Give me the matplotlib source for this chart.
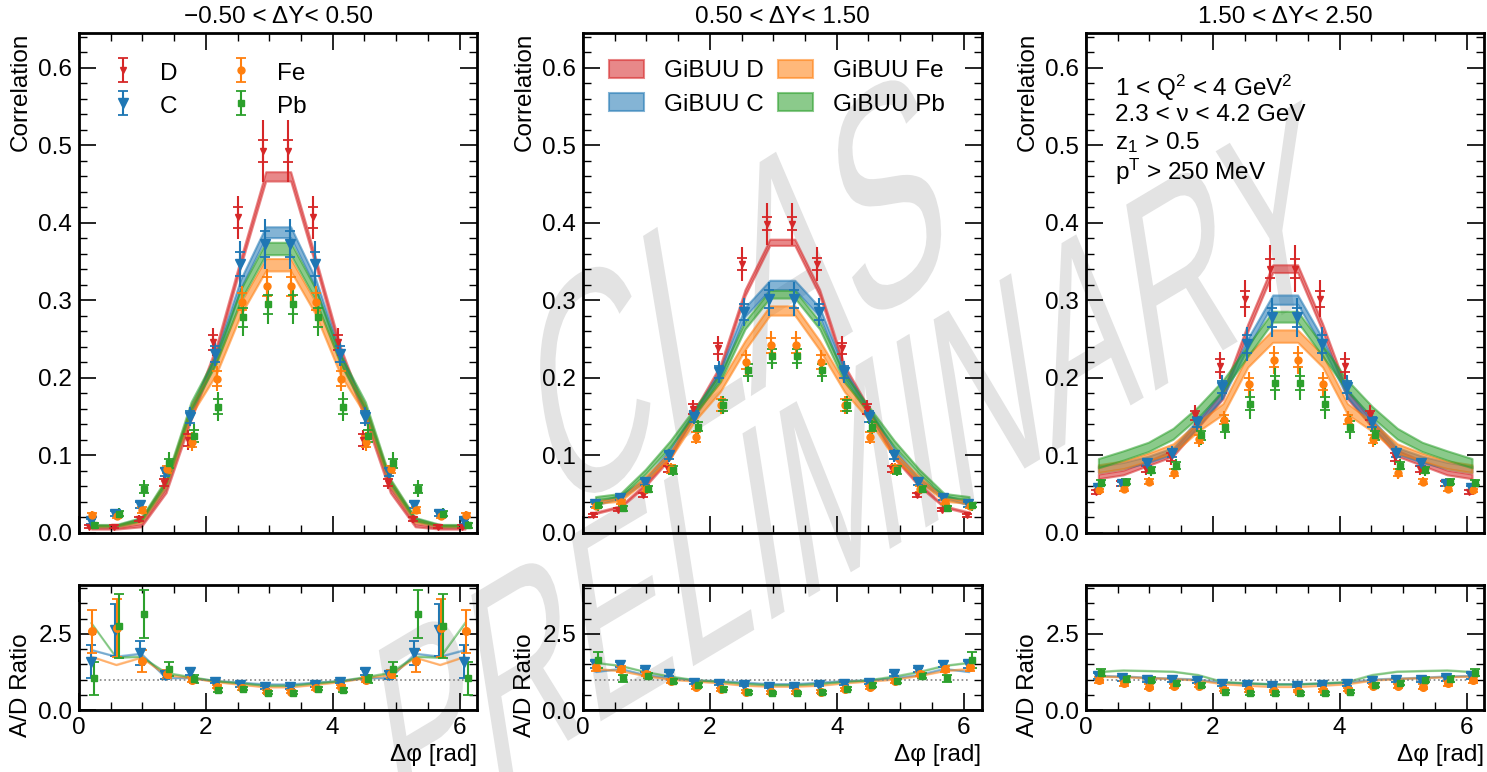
import numpy as np
import matplotlib
matplotlib.use('Agg')
import matplotlib.pyplot as plt
from matplotlib.ticker import MultipleLocator
from matplotlib.textpath import TextPath
from matplotlib.patches import PathPatch
from matplotlib.font_manager import FontProperties
from matplotlib.transforms import Affine2D, IdentityTransform

plt.rcParams['font.family'] = ['Liberation Sans', 'DejaVu Sans']
plt.rcParams['font.size'] = 17.5
plt.rcParams['mathtext.default'] = 'regular'

# bin centres in delta phi
dphi = np.array([0.196, 0.589, 0.982, 1.374, 1.767, 2.160, 2.553, 2.945,
                 3.338, 3.731, 4.123, 4.516, 4.909, 5.301, 5.694, 6.087])

titles = ['−0.50 < ΔY< 0.50', '0.50 < ΔY< 1.50', '1.50 < ΔY< 2.50']

# ---------------- panel 1 : -0.5 < dY < 0.5 ----------------
d1 = [0.008, 0.008, 0.018, 0.065, 0.120, 0.246, 0.407, 0.493, 0.493, 0.407, 0.246, 0.120, 0.065, 0.018, 0.008, 0.008]
c1 = [0.015, 0.025, 0.036, 0.079, 0.150, 0.231, 0.347, 0.373, 0.373, 0.347, 0.231, 0.150, 0.079, 0.036, 0.025, 0.015]
fe1 = [0.023, 0.022, 0.030, 0.082, 0.118, 0.199, 0.298, 0.318, 0.318, 0.298, 0.199, 0.118, 0.082, 0.030, 0.022, 0.023]
pb1 = [0.010, 0.025, 0.057, 0.090, 0.125, 0.163, 0.278, 0.295, 0.295, 0.278, 0.163, 0.125, 0.090, 0.057, 0.025, 0.010]

d1_stat = [0.002, 0.002, 0.003, 0.005, 0.008, 0.010, 0.013, 0.014, 0.014, 0.013, 0.010, 0.008, 0.005, 0.003, 0.002, 0.002]
d1_tot = [0.003, 0.003, 0.005, 0.008, 0.013, 0.018, 0.028, 0.040, 0.040, 0.028, 0.018, 0.013, 0.008, 0.005, 0.003, 0.003]
c1_stat = [0.003, 0.003, 0.004, 0.005, 0.008, 0.010, 0.015, 0.017, 0.017, 0.015, 0.010, 0.008, 0.005, 0.004, 0.003, 0.003]
c1_tot = [0.005, 0.005, 0.006, 0.009, 0.012, 0.016, 0.030, 0.032, 0.032, 0.030, 0.016, 0.012, 0.009, 0.006, 0.005, 0.005]
fe1_stat = [0.003, 0.003, 0.004, 0.005, 0.007, 0.010, 0.011, 0.012, 0.012, 0.011, 0.010, 0.007, 0.005, 0.004, 0.003, 0.003]
fe1_tot = [0.005, 0.005, 0.006, 0.009, 0.012, 0.016, 0.020, 0.022, 0.022, 0.020, 0.016, 0.012, 0.009, 0.006, 0.005, 0.005]
pb1_stat = [0.003, 0.003, 0.005, 0.006, 0.008, 0.010, 0.012, 0.012, 0.012, 0.012, 0.010, 0.008, 0.006, 0.005, 0.003, 0.003]
pb1_tot = [0.005, 0.007, 0.011, 0.014, 0.016, 0.019, 0.024, 0.026, 0.026, 0.024, 0.019, 0.016, 0.014, 0.011, 0.007, 0.005]

gd1 = [0.006, 0.006, 0.010, 0.055, 0.150, 0.235, 0.350, 0.460, 0.460, 0.350, 0.235, 0.150, 0.055, 0.010, 0.006, 0.006]
gc1 = [0.009, 0.009, 0.017, 0.063, 0.158, 0.226, 0.322, 0.388, 0.388, 0.322, 0.226, 0.158, 0.063, 0.017, 0.009, 0.009]
gfe1 = [0.009, 0.009, 0.016, 0.064, 0.158, 0.212, 0.290, 0.346, 0.346, 0.290, 0.212, 0.158, 0.064, 0.016, 0.009, 0.009]
gpb1 = [0.010, 0.010, 0.018, 0.067, 0.164, 0.224, 0.308, 0.367, 0.367, 0.308, 0.224, 0.164, 0.067, 0.018, 0.010, 0.010]
gd1_w = [0.001, 0.001, 0.002, 0.003, 0.004, 0.005, 0.005, 0.006, 0.006, 0.005, 0.005, 0.004, 0.003, 0.002, 0.001, 0.001]
gc1_w = [0.001, 0.001, 0.002, 0.003, 0.004, 0.005, 0.006, 0.007, 0.007, 0.006, 0.005, 0.004, 0.003, 0.002, 0.001, 0.001]
gfe1_w = [0.001, 0.001, 0.002, 0.004, 0.006, 0.008, 0.008, 0.008, 0.008, 0.008, 0.008, 0.006, 0.004, 0.002, 0.001, 0.001]
gpb1_w = [0.001, 0.001, 0.002, 0.003, 0.005, 0.006, 0.007, 0.008, 0.008, 0.007, 0.006, 0.005, 0.003, 0.002, 0.001, 0.001]

c1_r = [1.59, 2.63, 1.87, 1.15, 1.26, 0.93, 0.82, 0.75, 0.75, 0.82, 0.93, 1.26, 1.15, 1.87, 2.63, 1.59]
fe1_r = [2.58, 2.70, 1.61, 1.18, 1.00, 0.77, 0.72, 0.60, 0.60, 0.72, 0.77, 1.00, 1.18, 1.61, 2.70, 2.58]
pb1_r = [1.04, 2.74, 3.15, 1.35, 1.02, 0.66, 0.69, 0.57, 0.57, 0.69, 0.66, 1.02, 1.35, 3.15, 2.74, 1.04]
c1_re = [0.55, 0.85, 0.40, 0.12, 0.10, 0.06, 0.05, 0.05, 0.05, 0.05, 0.06, 0.10, 0.12, 0.40, 0.85, 0.55]
fe1_re = [0.70, 0.95, 0.35, 0.12, 0.09, 0.06, 0.05, 0.05, 0.05, 0.05, 0.06, 0.09, 0.12, 0.35, 0.95, 0.70]
pb1_re = [0.55, 1.05, 0.80, 0.22, 0.12, 0.07, 0.05, 0.05, 0.05, 0.05, 0.07, 0.12, 0.22, 0.80, 1.05, 0.55]
gc1_r = [1.97, 1.75, 1.85, 1.05, 1.05, 0.95, 0.90, 0.84, 0.84, 0.90, 0.95, 1.05, 1.05, 1.85, 1.75, 1.97]
gfe1_r = [1.75, 1.48, 1.72, 1.15, 1.05, 0.92, 0.83, 0.75, 0.75, 0.83, 0.92, 1.05, 1.15, 1.72, 1.48, 1.75]
gpb1_r = [2.85, 1.72, 1.75, 1.22, 1.08, 0.95, 0.88, 0.80, 0.80, 0.88, 0.95, 1.08, 1.22, 1.75, 1.72, 2.85]

# ---------------- panel 2 : 0.5 < dY < 1.5 ----------------
d2 = [0.023, 0.030, 0.049, 0.083, 0.160, 0.238, 0.347, 0.399, 0.399, 0.347, 0.238, 0.160, 0.083, 0.049, 0.030, 0.023]
c2 = [0.037, 0.045, 0.066, 0.100, 0.150, 0.208, 0.285, 0.302, 0.302, 0.285, 0.208, 0.150, 0.100, 0.066, 0.045, 0.037]
fe2 = [0.035, 0.040, 0.057, 0.083, 0.124, 0.165, 0.220, 0.242, 0.242, 0.220, 0.165, 0.124, 0.083, 0.057, 0.040, 0.035]
pb2 = [0.036, 0.032, 0.057, 0.081, 0.137, 0.165, 0.210, 0.228, 0.228, 0.210, 0.165, 0.137, 0.081, 0.057, 0.032, 0.036]

d2_stat = [0.002, 0.002, 0.003, 0.004, 0.006, 0.007, 0.008, 0.008, 0.008, 0.008, 0.007, 0.006, 0.004, 0.003, 0.002, 0.002]
d2_tot = [0.003, 0.003, 0.004, 0.007, 0.011, 0.016, 0.022, 0.027, 0.027, 0.022, 0.016, 0.011, 0.007, 0.004, 0.003, 0.003]
c2_stat = [0.003, 0.003, 0.004, 0.005, 0.007, 0.008, 0.010, 0.012, 0.012, 0.010, 0.008, 0.007, 0.005, 0.004, 0.003, 0.003]
c2_tot = [0.004, 0.004, 0.005, 0.008, 0.010, 0.014, 0.018, 0.022, 0.022, 0.018, 0.014, 0.010, 0.008, 0.005, 0.004, 0.004]
fe2_stat = [0.003, 0.003, 0.004, 0.005, 0.006, 0.008, 0.009, 0.010, 0.010, 0.009, 0.008, 0.006, 0.005, 0.004, 0.003, 0.003]
fe2_tot = [0.004, 0.004, 0.005, 0.007, 0.009, 0.012, 0.016, 0.018, 0.018, 0.016, 0.012, 0.009, 0.007, 0.005, 0.004, 0.004]
pb2_stat = [0.003, 0.003, 0.004, 0.005, 0.006, 0.007, 0.008, 0.009, 0.009, 0.008, 0.007, 0.006, 0.005, 0.004, 0.003, 0.003]
pb2_tot = [0.008, 0.005, 0.005, 0.007, 0.009, 0.012, 0.015, 0.016, 0.016, 0.015, 0.012, 0.009, 0.007, 0.005, 0.005, 0.008]

gd2 = [0.026, 0.034, 0.062, 0.098, 0.157, 0.212, 0.310, 0.375, 0.375, 0.310, 0.212, 0.157, 0.098, 0.062, 0.034, 0.026]
gc2 = [0.038, 0.047, 0.068, 0.106, 0.155, 0.205, 0.285, 0.320, 0.320, 0.285, 0.205, 0.155, 0.106, 0.068, 0.047, 0.038]
gfe2 = [0.040, 0.043, 0.070, 0.100, 0.150, 0.188, 0.242, 0.287, 0.287, 0.242, 0.188, 0.150, 0.100, 0.070, 0.043, 0.040]
gpb2 = [0.045, 0.049, 0.079, 0.115, 0.158, 0.200, 0.268, 0.308, 0.308, 0.268, 0.200, 0.158, 0.115, 0.079, 0.049, 0.045]
gd2_w = [0.001, 0.001, 0.002, 0.002, 0.003, 0.004, 0.004, 0.004, 0.004, 0.004, 0.004, 0.003, 0.002, 0.002, 0.001, 0.001]
gc2_w = [0.002, 0.002, 0.002, 0.003, 0.004, 0.005, 0.006, 0.006, 0.006, 0.006, 0.005, 0.004, 0.003, 0.002, 0.002, 0.002]
gfe2_w = [0.002, 0.002, 0.003, 0.004, 0.005, 0.006, 0.006, 0.006, 0.006, 0.006, 0.006, 0.005, 0.004, 0.003, 0.002, 0.002]
gpb2_w = [0.002, 0.002, 0.003, 0.004, 0.004, 0.005, 0.005, 0.005, 0.005, 0.005, 0.005, 0.004, 0.004, 0.003, 0.002, 0.002]

c2_r = [1.50, 1.48, 1.32, 1.18, 0.90, 0.86, 0.82, 0.75, 0.75, 0.82, 0.86, 0.90, 1.18, 1.32, 1.48, 1.50]
fe2_r = [1.42, 1.34, 1.18, 0.96, 0.75, 0.68, 0.60, 0.58, 0.58, 0.60, 0.68, 0.75, 0.96, 1.18, 1.34, 1.42]
pb2_r = [1.64, 1.04, 1.12, 0.95, 0.82, 0.69, 0.58, 0.55, 0.55, 0.58, 0.69, 0.82, 0.95, 1.12, 1.04, 1.64]
c2_re = [0.12, 0.08, 0.07, 0.06, 0.05, 0.05, 0.04, 0.04, 0.04, 0.04, 0.05, 0.05, 0.06, 0.07, 0.08, 0.12]
fe2_re = [0.15, 0.10, 0.07, 0.06, 0.05, 0.05, 0.04, 0.04, 0.04, 0.04, 0.05, 0.05, 0.06, 0.07, 0.10, 0.15]
pb2_re = [0.25, 0.12, 0.08, 0.06, 0.05, 0.05, 0.04, 0.04, 0.04, 0.04, 0.05, 0.05, 0.06, 0.08, 0.12, 0.25]
gc2_r = [1.25, 1.35, 1.15, 1.05, 0.97, 0.95, 0.90, 0.85, 0.85, 0.90, 0.95, 0.97, 1.05, 1.15, 1.35, 1.25]
gfe2_r = [1.35, 1.28, 1.12, 1.00, 0.94, 0.88, 0.80, 0.77, 0.77, 0.80, 0.88, 0.94, 1.00, 1.12, 1.28, 1.35]
gpb2_r = [1.55, 1.45, 1.25, 1.10, 0.98, 0.93, 0.86, 0.82, 0.82, 0.86, 0.93, 0.98, 1.10, 1.25, 1.45, 1.55]

# ---------------- panel 3 : 1.5 < dY < 2.5 ----------------
d3 = [0.053, 0.064, 0.083, 0.098, 0.152, 0.216, 0.302, 0.341, 0.341, 0.302, 0.216, 0.152, 0.098, 0.083, 0.064, 0.053]
c3 = [0.058, 0.063, 0.090, 0.103, 0.143, 0.188, 0.244, 0.278, 0.278, 0.244, 0.188, 0.143, 0.103, 0.090, 0.063, 0.058]
fe3 = [0.055, 0.057, 0.066, 0.078, 0.121, 0.146, 0.192, 0.223, 0.223, 0.192, 0.146, 0.121, 0.078, 0.066, 0.057, 0.055]
pb3 = [0.065, 0.066, 0.081, 0.087, 0.126, 0.137, 0.167, 0.193, 0.193, 0.167, 0.137, 0.126, 0.087, 0.081, 0.066, 0.065]

d3_stat = [0.003, 0.003, 0.004, 0.005, 0.006, 0.008, 0.010, 0.012, 0.012, 0.010, 0.008, 0.006, 0.005, 0.004, 0.003, 0.003]
d3_tot = [0.004, 0.005, 0.008, 0.010, 0.013, 0.018, 0.024, 0.030, 0.030, 0.024, 0.018, 0.013, 0.010, 0.008, 0.005, 0.004]
c3_stat = [0.003, 0.003, 0.004, 0.005, 0.006, 0.008, 0.012, 0.012, 0.012, 0.012, 0.008, 0.006, 0.005, 0.004, 0.003, 0.003]
c3_tot = [0.004, 0.005, 0.007, 0.009, 0.011, 0.016, 0.022, 0.025, 0.025, 0.022, 0.016, 0.011, 0.009, 0.007, 0.005, 0.004]
fe3_stat = [0.002, 0.003, 0.003, 0.004, 0.005, 0.006, 0.008, 0.009, 0.009, 0.008, 0.006, 0.005, 0.004, 0.003, 0.003, 0.002]
fe3_tot = [0.004, 0.004, 0.006, 0.008, 0.010, 0.012, 0.016, 0.018, 0.018, 0.016, 0.012, 0.010, 0.008, 0.006, 0.004, 0.004]
pb3_stat = [0.003, 0.003, 0.004, 0.005, 0.006, 0.007, 0.008, 0.009, 0.009, 0.008, 0.007, 0.006, 0.005, 0.004, 0.003, 0.003]
pb3_tot = [0.005, 0.005, 0.007, 0.009, 0.012, 0.016, 0.020, 0.022, 0.022, 0.020, 0.016, 0.012, 0.009, 0.007, 0.005, 0.005]

gd3 = [0.073, 0.078, 0.090, 0.103, 0.140, 0.178, 0.265, 0.341, 0.341, 0.265, 0.178, 0.140, 0.103, 0.090, 0.078, 0.073]
gc3 = [0.082, 0.087, 0.095, 0.106, 0.142, 0.180, 0.245, 0.301, 0.301, 0.245, 0.180, 0.142, 0.106, 0.095, 0.087, 0.082]
gfe3 = [0.083, 0.088, 0.098, 0.109, 0.137, 0.160, 0.222, 0.254, 0.254, 0.222, 0.160, 0.137, 0.109, 0.098, 0.088, 0.083]
gpb3 = [0.090, 0.100, 0.111, 0.128, 0.156, 0.190, 0.235, 0.279, 0.279, 0.235, 0.190, 0.156, 0.128, 0.111, 0.100, 0.090]
gd3_w = [0.003, 0.003, 0.003, 0.004, 0.004, 0.005, 0.005, 0.005, 0.005, 0.005, 0.005, 0.004, 0.004, 0.003, 0.003, 0.003]
gc3_w = [0.004, 0.004, 0.004, 0.004, 0.005, 0.005, 0.006, 0.006, 0.006, 0.006, 0.005, 0.005, 0.004, 0.004, 0.004, 0.004]
gfe3_w = [0.005, 0.005, 0.005, 0.006, 0.006, 0.007, 0.008, 0.008, 0.008, 0.008, 0.007, 0.006, 0.006, 0.005, 0.005, 0.005]
gpb3_w = [0.006, 0.006, 0.006, 0.007, 0.007, 0.007, 0.007, 0.007, 0.007, 0.007, 0.007, 0.007, 0.007, 0.006, 0.006, 0.006]

c3_r = [1.12, 1.04, 0.99, 0.99, 0.95, 0.84, 0.82, 0.79, 0.79, 0.82, 0.84, 0.95, 0.99, 0.99, 1.04, 1.12]
fe3_r = [0.99, 0.88, 0.77, 0.79, 0.79, 0.66, 0.64, 0.62, 0.62, 0.64, 0.66, 0.79, 0.79, 0.77, 0.88, 0.99]
pb3_r = [1.23, 1.01, 0.99, 0.88, 0.82, 0.60, 0.55, 0.55, 0.55, 0.55, 0.60, 0.82, 0.88, 0.99, 1.01, 1.23]
c3_re = [0.10, 0.08, 0.07, 0.06, 0.05, 0.05, 0.04, 0.04, 0.04, 0.04, 0.05, 0.05, 0.06, 0.07, 0.08, 0.10]
fe3_re = [0.10, 0.08, 0.07, 0.06, 0.05, 0.05, 0.04, 0.04, 0.04, 0.04, 0.05, 0.05, 0.06, 0.07, 0.08, 0.10]
pb3_re = [0.12, 0.09, 0.08, 0.07, 0.06, 0.05, 0.05, 0.05, 0.05, 0.05, 0.05, 0.06, 0.07, 0.08, 0.09, 0.12]
gc3_r = [1.12, 1.10, 1.06, 1.03, 1.00, 0.90, 0.87, 0.85, 0.85, 0.87, 0.90, 1.00, 1.03, 1.06, 1.10, 1.12]
gfe3_r = [1.10, 1.08, 1.05, 1.02, 0.97, 0.85, 0.80, 0.76, 0.76, 0.80, 0.85, 0.97, 1.02, 1.05, 1.08, 1.10]
gpb3_r = [1.25, 1.30, 1.28, 1.26, 1.15, 0.92, 0.88, 0.84, 0.84, 0.88, 0.92, 1.15, 1.26, 1.28, 1.30, 1.25]

nuclei = ['D', 'C', 'Fe', 'Pb']
colors = {'D': '#d62728', 'C': '#1f77b4', 'Fe': '#ff7f0e', 'Pb': '#2ca02c'}
markers = {'D': 'v', 'C': 'v', 'Fe': 'o', 'Pb': 's'}
msize = {'D': 4.5, 'C': 6.5, 'Fe': 5.0, 'Pb': 4.5}
shift = {'D': -0.04, 'C': -0.013, 'Fe': 0.013, 'Pb': 0.04}

panels = [
    dict(data={'D': (d1, d1_stat, d1_tot), 'C': (c1, c1_stat, c1_tot),
               'Fe': (fe1, fe1_stat, fe1_tot), 'Pb': (pb1, pb1_stat, pb1_tot)},
         model={'D': (gd1, gd1_w), 'C': (gc1, gc1_w), 'Fe': (gfe1, gfe1_w), 'Pb': (gpb1, gpb1_w)},
         ratio={'C': (c1_r, c1_re), 'Fe': (fe1_r, fe1_re), 'Pb': (pb1_r, pb1_re)},
         mratio={'C': gc1_r, 'Fe': gfe1_r, 'Pb': gpb1_r}),
    dict(data={'D': (d2, d2_stat, d2_tot), 'C': (c2, c2_stat, c2_tot),
               'Fe': (fe2, fe2_stat, fe2_tot), 'Pb': (pb2, pb2_stat, pb2_tot)},
         model={'D': (gd2, gd2_w), 'C': (gc2, gc2_w), 'Fe': (gfe2, gfe2_w), 'Pb': (gpb2, gpb2_w)},
         ratio={'C': (c2_r, c2_re), 'Fe': (fe2_r, fe2_re), 'Pb': (pb2_r, pb2_re)},
         mratio={'C': gc2_r, 'Fe': gfe2_r, 'Pb': gpb2_r}),
    dict(data={'D': (d3, d3_stat, d3_tot), 'C': (c3, c3_stat, c3_tot),
               'Fe': (fe3, fe3_stat, fe3_tot), 'Pb': (pb3, pb3_stat, pb3_tot)},
         model={'D': (gd3, gd3_w), 'C': (gc3, gc3_w), 'Fe': (gfe3, gfe3_w), 'Pb': (gpb3, gpb3_w)},
         ratio={'C': (c3_r, c3_re), 'Fe': (fe3_r, fe3_re), 'Pb': (pb3_r, pb3_re)},
         mratio={'C': gc3_r, 'Fe': gfe3_r, 'Pb': gpb3_r}),
]


def style_axis(ax):
    for sp in ax.spines.values():
        sp.set_linewidth(2.0)
    ax.tick_params(which='both', direction='in', top=True, right=True)
    ax.tick_params(which='major', length=12, width=1.2, pad=5)
    ax.tick_params(which='minor', length=6, width=1.0)
    ax.set_xlim(0, 2 * np.pi)
    ax.xaxis.set_major_locator(MultipleLocator(2))
    ax.xaxis.set_minor_locator(MultipleLocator(0.5))
    ax.patch.set_alpha(0)


def watermark(fig, text, cx, cy, size, angle, stretch):
    # rotated text, then stretched vertically (pixel coordinates, origin bottom-left)
    tp = TextPath((0, 0), text, size=size, prop=FontProperties(family='Liberation Sans'))
    bb = tp.get_extents()
    tr = (Affine2D().translate(-(bb.x0 + bb.x1) / 2, -(bb.y0 + bb.y1) / 2)
          .rotate_deg(angle).scale(1, stretch).translate(cx, cy))
    patch = PathPatch(tr.transform_path(tp), facecolor='#e3e3e3', edgecolor='none',
                      transform=IdentityTransform(), zorder=-1)
    fig.add_artist(patch)


fig = plt.figure(figsize=(14.87, 7.72), dpi=100)

watermark(fig, 'CLAS', 738, 772 - 290, 162, 18, 1.95)
watermark(fig, 'PRELIMINARY', 855, 772 - 468, 145, 17, 1.95)

lefts = [0.0531, 0.3921, 0.7303]
width = 0.2680

for i, p in enumerate(panels):
    ax = fig.add_axes([lefts[i], 0.3096, width, 0.6477])
    rax = fig.add_axes([lefts[i], 0.0803, width, 0.1619])
    style_axis(ax)
    style_axis(rax)

    band_handles = []
    for n in nuclei:
        y, w = np.array(p['model'][n][0]), np.array(p['model'][n][1])
        h = ax.fill_between(dphi, y - w, y + w, facecolor=colors[n], edgecolor=colors[n],
                            alpha=0.55, lw=1.5, zorder=1, label='GiBUU ' + n)
        band_handles.append(h)

    data_handles = []
    for n in nuclei:
        y, st, tot = p['data'][n]
        xs = dphi + shift[n]
        ax.errorbar(xs, y, yerr=tot, fmt='none', ecolor=colors[n], elinewidth=1.5,
                    capsize=0, zorder=3)
        h = ax.errorbar(xs, y, yerr=st, fmt=markers[n], color=colors[n], ms=msize[n],
                        elinewidth=1.5, capsize=3.5, capthick=1.3, zorder=4, label=n)
        data_handles.append(h)

    ax.set_ylim(0, 0.645)
    ax.yaxis.set_major_locator(MultipleLocator(0.1))
    ax.yaxis.set_minor_locator(MultipleLocator(0.02))
    ax.tick_params(labelbottom=False)
    ax.set_title(titles[i], fontsize=17.5, pad=7)
    ax.set_ylabel('Correlation', loc='top')
    ax.yaxis.set_label_coords(-0.118, 1.0)

    # ratio panel
    for n in ['C', 'Fe', 'Pb']:
        r = np.array(p['mratio'][n])
        rax.fill_between(dphi, r - 0.03, r + 0.03, color=colors[n], alpha=0.3, lw=0, zorder=1)
        rax.plot(dphi, r, color=colors[n], alpha=0.45, lw=1.6, zorder=1)
    rax.plot([dphi[0], dphi[-1]], [1, 1], ls=':', color='gray', lw=1.2, zorder=2)
    for n in ['C', 'Fe', 'Pb']:
        r, re = p['ratio'][n]
        rax.errorbar(dphi + shift[n], r, yerr=re, fmt=markers[n], color=colors[n],
                     ms=msize[n] + 0.5, elinewidth=1.5, capsize=3.5, capthick=1.3, zorder=3)
    rax.set_ylim(0, 4.1)
    rax.yaxis.set_major_locator(MultipleLocator(2.5))
    rax.yaxis.set_minor_locator(MultipleLocator(0.5))
    rax.set_ylabel('A/D Ratio', loc='top')
    rax.yaxis.set_label_coords(-0.118, 0.616)
    rax.set_xlabel('Δφ [rad]', loc='right')
    rax.xaxis.set_label_coords(1.0, -0.27)

    if i == 0:
        ax.legend(handles=data_handles, ncol=2, loc='upper left', bbox_to_anchor=(0.02, 0.99),
                  frameon=False, handlelength=1.2, handleheight=1.2, handletextpad=0.9,
                  columnspacing=2.0, labelspacing=0.3)
    elif i == 1:
        ax.legend(handles=band_handles, ncol=2, loc='upper left', bbox_to_anchor=(0.01, 0.99),
                  frameon=False, handlelength=1.45, handleheight=0.75, handletextpad=0.8,
                  columnspacing=0.6, labelspacing=0.45)
    else:
        lines = ['1 < Q$^2$ < 4 GeV$^2$', '2.3 < ν < 4.2 GeV', 'z$_1$ > 0.5', 'p$^T$ > 250 MeV']
        for k, t in enumerate(lines):
            ax.text(0.073, [0.89, 0.836, 0.78, 0.722][k], t, transform=ax.transAxes,
                    va='center', ha='left')

fig.savefig('out.png', dpi=100)
